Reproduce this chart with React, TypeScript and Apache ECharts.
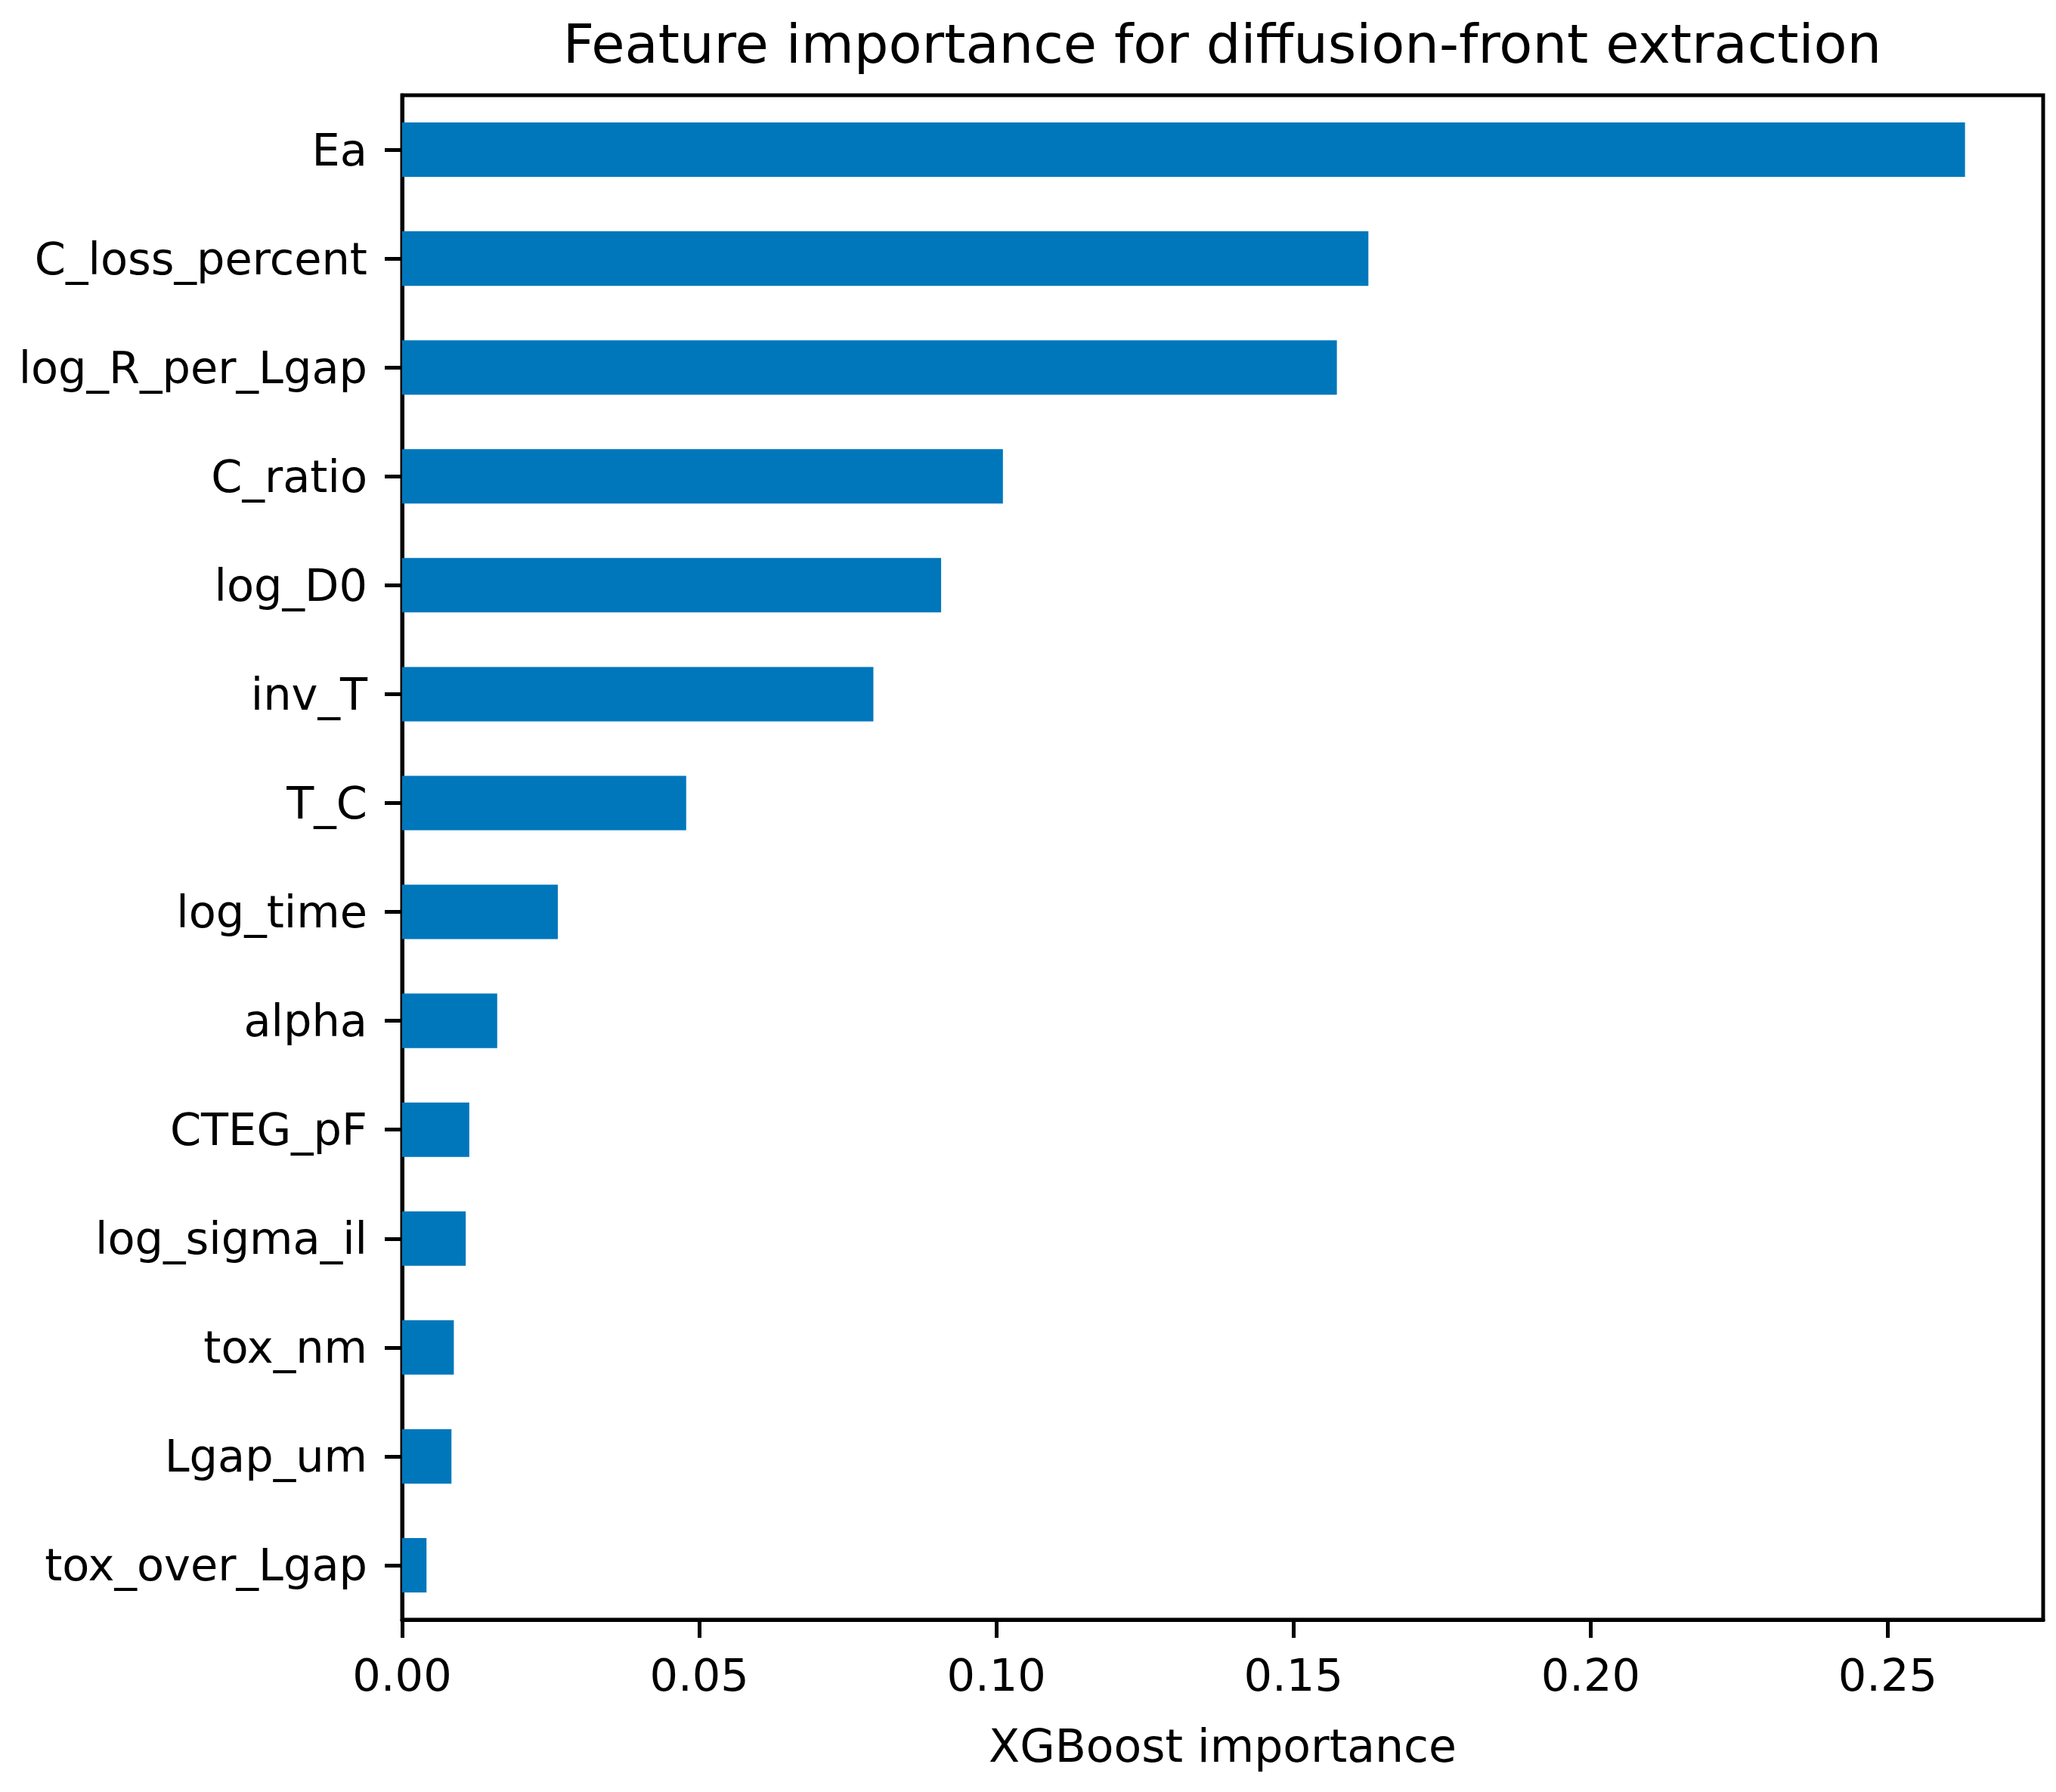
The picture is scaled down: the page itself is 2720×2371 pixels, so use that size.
import { useEffect, useRef } from 'react';
import * as echarts from 'echarts';

// features, top to bottom as in the figure
const features = [
  'Ea',
  'C_loss_percent',
  'log_R_per_Lgap',
  'C_ratio',
  'log_D0',
  'inv_T',
  'T_C',
  'log_time',
  'alpha',
  'CTEG_pF',
  'log_sigma_il',
  'tox_nm',
  'Lgap_um',
  'tox_over_Lgap',
];

const importance = [
  0.263, 0.1626, 0.1573, 0.1011, 0.0907, 0.0793, 0.0478, 0.0262, 0.016, 0.0113, 0.0107, 0.0087,
  0.0083, 0.0041,
];

const xTicks = [0, 0.05, 0.1, 0.15, 0.2, 0.25];

const FONT = 'DejaVu Sans';
const BAR_COLOR = '#0077BB';

export default function App() {
  const chartRef = useRef<HTMLDivElement>(null);

  useEffect(() => {
    document.body.style.margin = '0';
    if (!chartRef.current) return;
    const chart = echarts.init(chartRef.current, undefined, { renderer: 'svg' });

    // matplotlib pads the x range by 5% of the largest bar
    const xMax = Math.max(...importance) * 1.05;

    const option: echarts.EChartsOption = {
      animation: false,
      backgroundColor: '#fff',
      textStyle: { fontFamily: FONT, color: '#000' },
      grid: {
        left: 532,
        top: 126,
        right: 17,
        bottom: 228,
        show: true,
        borderColor: '#000',
        borderWidth: 5,
        backgroundColor: 'transparent',
      },
      graphic: [
        {
          type: 'text',
          x: 1617,
          y: 58,
          style: {
            text: 'Feature importance for diffusion-front extraction',
            fill: '#000',
            font: `72px "${FONT}"`,
            textAlign: 'center',
            textVerticalAlign: 'middle',
          },
        },
      ],
      xAxis: {
        type: 'value',
        min: 0,
        max: xMax,
        interval: 0.05,
        name: 'XGBoost importance',
        nameLocation: 'middle',
        nameGap: 137,
        nameTextStyle: { fontFamily: FONT, fontSize: 60, color: '#000' },
        axisLine: { show: true, lineStyle: { color: '#000', width: 5 } },
        axisTick: {
          show: true,
          length: 24,
          lineStyle: { color: '#000', width: 5 },
          customValues: xTicks,
        } as any,
        axisLabel: {
          fontFamily: FONT,
          fontSize: 59,
          color: '#000',
          margin: 44,
          customValues: xTicks,
          formatter: (v: number) => v.toFixed(2),
        } as any,
        splitLine: { show: false },
      },
      yAxis: {
        type: 'category',
        data: features,
        inverse: true,
        axisLine: { show: true, lineStyle: { color: '#000', width: 5 } },
        axisTick: {
          show: true,
          alignWithLabel: true,
          length: 23,
          lineStyle: { color: '#000', width: 5 },
        },
        axisLabel: {
          fontFamily: FONT,
          fontSize: 59,
          color: '#000',
          margin: 46,
          interval: 0,
        },
        splitLine: { show: false },
      },
      series: [
        {
          type: 'bar',
          data: importance,
          barWidth: '50%',
          itemStyle: { color: BAR_COLOR },
        },
      ],
    };

    chart.setOption(option);
    return () => chart.dispose();
  }, []);

  return <div ref={chartRef} style={{ width: 2720, height: 2371 }} />;
}
